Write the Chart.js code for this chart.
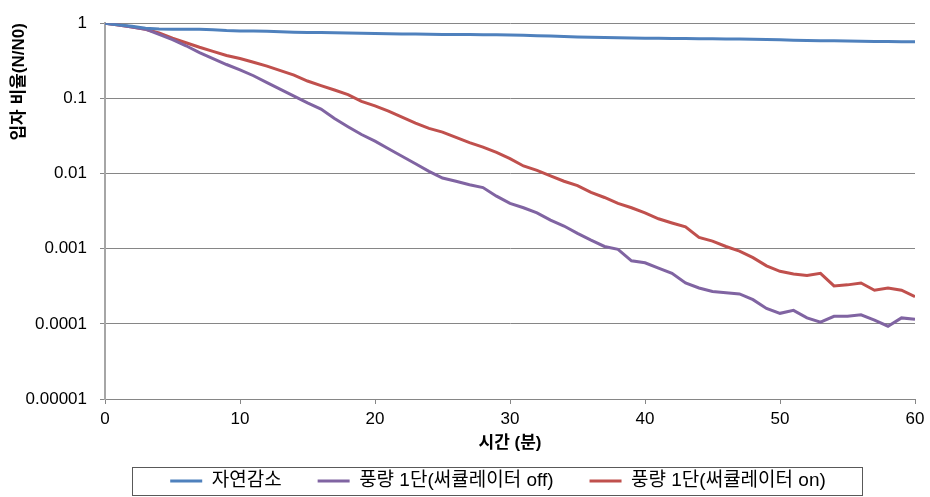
<!DOCTYPE html>
<html lang="ko">
<head>
<meta charset="utf-8" />
<title>입자 비율</title>
<script src="https://cdn.jsdelivr.net/npm/chart.js"></script>
<style>
  body { margin: 0; background: #fff; }
  #wrap { width: 930px; height: 497px; }
</style>
</head>
<body>
<div id="wrap"><canvas id="chart" width="930" height="497"></canvas></div>
<script>
// 시간 (분)
const minutes = [0, 1, 2, 3, 4, 5, 6, 7, 8, 9, 10, 11, 12, 13, 14, 15, 16, 17, 18, 19, 20,
  21, 22, 23, 24, 25, 26, 27, 28, 29, 30, 31, 32, 33, 34, 35, 36, 37, 38, 39, 40,
  41, 42, 43, 44, 45, 46, 47, 48, 49, 50, 51, 52, 53, 54, 55, 56, 57, 58, 59, 60];

// 자연감소
const natural = [1, 0.95, 0.91, 0.86, 0.84, 0.83, 0.83, 0.83, 0.82, 0.8, 0.79,
  0.785, 0.78, 0.77, 0.76, 0.75, 0.75, 0.745, 0.74, 0.735, 0.73,
  0.725, 0.72, 0.72, 0.715, 0.71, 0.71, 0.705, 0.7, 0.7, 0.695,
  0.69, 0.68, 0.675, 0.665, 0.655, 0.65, 0.645, 0.64, 0.635, 0.63,
  0.63, 0.625, 0.625, 0.62, 0.62, 0.615, 0.615, 0.61, 0.605, 0.6,
  0.595, 0.59, 0.585, 0.585, 0.58, 0.575, 0.57, 0.57, 0.565, 0.565];

// 풍량 1단(써큘레이터 off)
const fanOff = [1, 0.944, 0.891, 0.832, 0.708, 0.603, 0.501, 0.407, 0.339, 0.282, 0.24,
  0.2, 0.162, 0.132, 0.107, 0.087, 0.072, 0.054, 0.042, 0.033, 0.027,
  0.0214, 0.017, 0.0135, 0.0107, 0.0087, 0.0079, 0.0071, 0.0065, 0.005, 0.004,
  0.0035, 0.003, 0.0024, 0.002, 0.0016, 0.0013, 0.00107, 0.00098, 0.00069, 0.00065,
  0.00055, 0.00047, 0.00035, 0.0003, 0.00027, 0.00026, 0.00025, 0.00021, 0.00016, 0.000138,
  0.000151, 0.00012, 0.000105, 0.000126, 0.000126, 0.000132, 0.000112, 0.000093, 0.00012, 0.000115];

// 풍량 1단(써큘레이터 on)
const fanOn = [1, 0.944, 0.891, 0.832, 0.741, 0.631, 0.55, 0.479, 0.422, 0.372, 0.339,
  0.302, 0.269, 0.234, 0.204, 0.17, 0.148, 0.129, 0.112, 0.0912, 0.0794,
  0.0676, 0.0562, 0.0468, 0.0398, 0.0355, 0.0302, 0.0257, 0.0224, 0.0191, 0.0158,
  0.0126, 0.011, 0.0093, 0.0079, 0.0069, 0.0056, 0.0048, 0.004, 0.0035, 0.003,
  0.0025, 0.0022, 0.00195, 0.00141, 0.00126, 0.00107, 0.00093, 0.00076, 0.00059, 0.0005,
  0.00046, 0.00044, 0.00047, 0.00032, 0.00033, 0.00035, 0.00028, 0.0003, 0.00028, 0.00023];

const seriesNames = ['자연감소', '풍량 1단(써큘레이터 off)', '풍량 1단(써큘레이터 on)'];
const seriesColors = ['#4F81BD', '#8064A2', '#C0504D'];
const xTicks = [0, 10, 20, 30, 40, 50, 60];
const yTicks = [1, 0.1, 0.01, 0.001, 0.0001, 0.00001];
const yTickLabels = ['1', '0.1', '0.01', '0.001', '0.0001', '0.00001'];

const fontFamily = '"Liberation Sans", Arial, "Noto Sans CJK KR", sans-serif';

function toPoints(values) {
  return minutes.map((m, i) => ({ x: m, y: values[i] }));
}

// 범례 위치 조정 + 테두리
const legendBorder = {
  id: 'legendBorder',
  afterLayout(chart) {
    const lg = chart.legend;
    lg.left -= 12;
    lg.right -= 12;
    lg.adjustHitBoxes();
  },
  afterDraw(chart) {
    const boxes = chart.legend.legendHitBoxes;
    if (!boxes || !boxes.length) return;
    const left = Math.min(...boxes.map(b => b.left)) - 38;
    const right = Math.max(...boxes.map(b => b.left + b.width)) + 36;
    const ctx = chart.ctx;
    ctx.save();
    ctx.strokeStyle = '#595959';
    ctx.lineWidth = 1;
    ctx.strokeRect(Math.round(left) + 0.5, 467.5, Math.round(right - left), 28);
    ctx.restore();
  }
};

const ctx = document.getElementById('chart').getContext('2d');
new Chart(ctx, {
  type: 'line',
  data: {
    datasets: [natural, fanOff, fanOn].map((vals, i) => ({
      label: seriesNames[i],
      data: toPoints(vals),
      borderColor: seriesColors[i],
      backgroundColor: seriesColors[i],
      borderWidth: 3,
      pointRadius: 0,
      tension: 0,
      fill: false
    }))
  },
  options: {
    responsive: false,
    animation: false,
    layout: { padding: { top: 17, right: 15, left: 0, bottom: -3.5 } },
    plugins: {
      tooltip: { enabled: false },
      legend: {
        position: 'bottom',
        fullSize: false,
        labels: {
          usePointStyle: true,
          pointStyle: 'line',
          pointStyleWidth: 32,
          padding: 36,
          color: '#000',
          font: { family: fontFamily, size: 19 }
        }
      }
    },
    scales: {
      x: {
        type: 'linear',
        min: 0,
        max: 60,
        afterBuildTicks: axis => { axis.ticks = xTicks.map(v => ({ value: v })); },
        afterFit: axis => { axis.height = 36.5; },
        ticks: {
          color: '#000',
          padding: 5,
          maxRotation: 0,
          font: { family: fontFamily, size: 17 }
        },
        grid: {
          drawOnChartArea: false,
          drawTicks: true,
          tickLength: 5,
          color: '#868686'
        },
        border: { color: '#868686', width: 1 },
        title: {
          display: true,
          text: '시간 (분)',
          color: '#000',
          padding: { top: 0, bottom: -17.7 },
          font: { family: fontFamily, size: 17, weight: 'bold' }
        }
      },
      y: {
        type: 'logarithmic',
        min: 0.00001,
        max: 1,
        afterBuildTicks: axis => { axis.ticks = yTicks.map(v => ({ value: v })); },
        afterFit: axis => { axis.width = 105; },
        ticks: {
          color: '#000',
          padding: 13,
          callback: (v, i) => yTickLabels[i],
          font: { family: fontFamily, size: 17 }
        },
        grid: {
          color: '#868686',
          tickLength: 5
        },
        border: { color: '#A6A6A6', width: 2 },
        title: {
          display: true,
          text: '입자 비율(N/N0)',
          align: 'end',
          color: '#000',
          padding: { top: 9, bottom: 0 },
          font: { family: fontFamily, size: 17, weight: 'bold' }
        }
      }
    }
  },
  plugins: [legendBorder]
});
</script>
</body>
</html>
